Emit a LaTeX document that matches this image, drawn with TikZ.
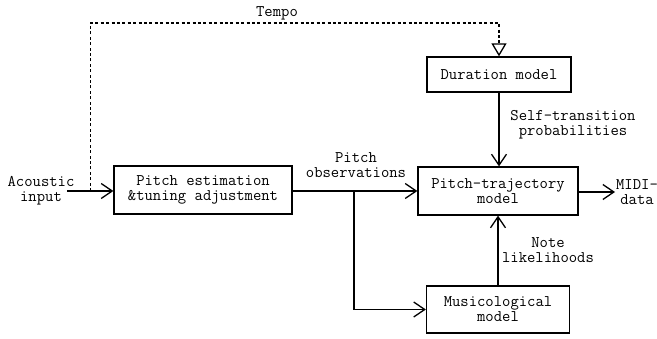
\documentclass[tikz,border=0pt]{standalone}
\usetikzlibrary{arrows.meta}
\begin{document}
\begin{tikzpicture}[x=1pt, y=-1pt,
  font=\ttfamily\fontsize{16.2}{15}\selectfont,
  line width=1.3pt,
  block/.style={draw, inner sep=0pt, align=center},
  lbl/.style={inner sep=0pt, align=center},
  arr/.style={-{Straight Barb[length=11pt, width=15pt, line width=1.3pt]}},
  tempoline/.style={dash pattern=on 3pt off 2.4pt,
    -{Triangle[open, length=13pt, width=15pt, line width=1.3pt]}}]
  \useasboundingbox (0,0) rectangle (657,339);

  % processing blocks
  \node[block, minimum width=178pt, minimum height=48pt] (pe) at (203,190)
    {Pitch estimation\\\&tuning adjustment};
  \node[block, minimum width=144pt, minimum height=35pt] (dur) at (499,74.5)
    {Duration model};
  \node[block, minimum width=160pt, minimum height=48pt] (pt) at (498,191)
    {Pitch-trajectory\\model};
  \node[block, minimum width=143pt, minimum height=47pt] (mus) at (498,309.5)
    {Musicological\\model};

  % text labels
  \node[lbl] (ain) at (41,191) {Acoustic\\input};
  \node[lbl] (tempo) at (277,13) {Tempo};
  \node[lbl] (obs) at (356,165.5) {Pitch\\observations};
  \node[lbl] (selft) at (573,124.5) {Self-transition\\probabilities};
  \node[lbl] (notel) at (548,250) {Note\\likelihoods};
  \node[lbl] (midi) at (637,192) {MIDI-\\data};

  % connector end points
  \coordinate (src) at (67,191);
  \coordinate (tap) at (90.5,191);
  \coordinate (top) at (90.5,23);
  \coordinate (branch) at (354,191);
  \coordinate (out) at (615,192);

  % connectors
  \draw[arr] (src) -- (pe.west |- src);
  \draw[tempoline] (tap) -- (top) -| (dur.north);
  \draw[arr] (dur.south) -- (dur.south |- pt.north);
  \draw[arr] (pe.east |- branch) -- (pt.west |- branch);
  \draw[arr] (branch) |- (mus.west);
  \draw[arr] (mus.north) -- (pt.south);
  \draw[arr] (pt.east |- out) -- (out);
\end{tikzpicture}
\end{document}
